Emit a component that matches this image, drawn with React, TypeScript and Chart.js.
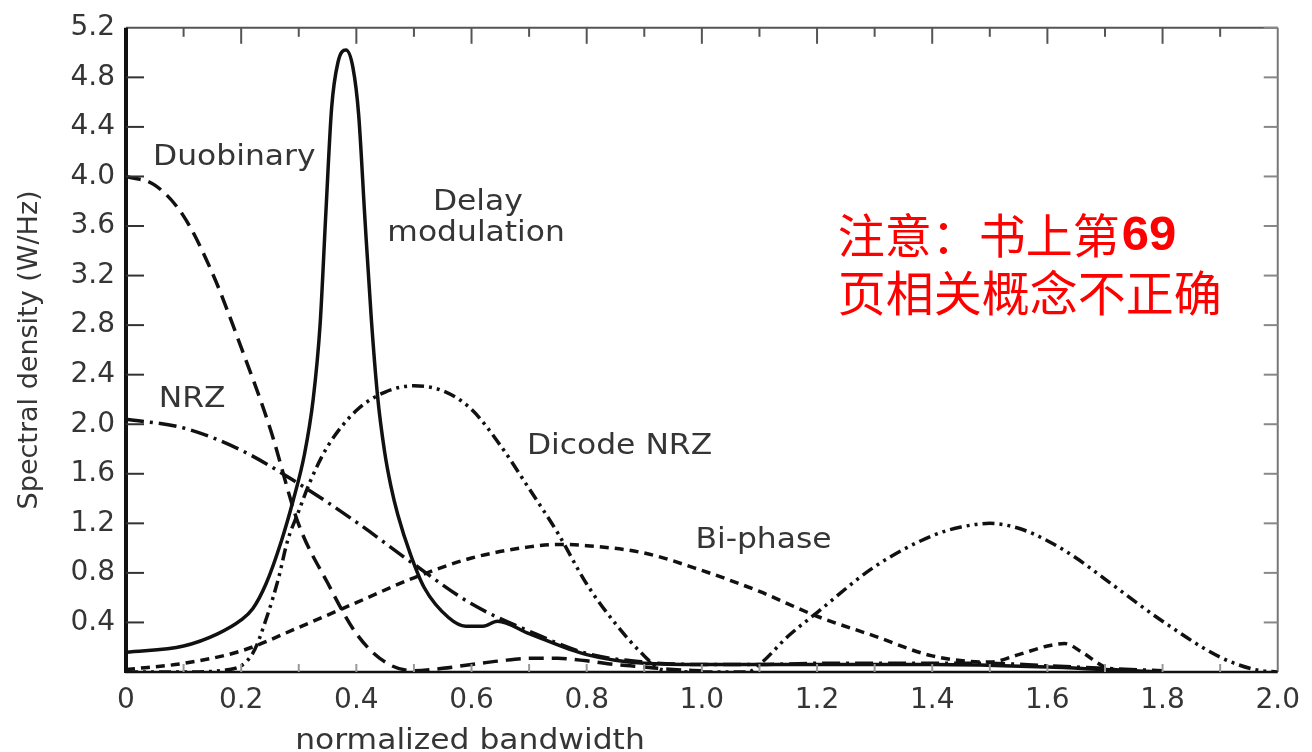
import React, { useEffect, useRef } from 'react';
import { Chart, registerables } from 'chart.js';

Chart.register(...registerables);

// ---------- data ----------
const duobinaryX = [0, 0.05, 0.1, 0.15, 0.2, 0.25, 0.3, 0.35, 0.4, 0.45, 0.5, 0.55, 0.6, 0.65, 0.7, 0.75, 0.8, 0.85, 0.9, 0.95, 1.0];
const duobinaryY = [4.0, 3.93, 3.68, 3.22, 2.62, 1.97, 1.19, 0.72, 0.31, 0.08, 0.01, 0.03, 0.06, 0.09, 0.11, 0.11, 0.09, 0.06, 0.04, 0.02, 0.01];

const delayX = [0, 0.1, 0.16, 0.2, 0.22, 0.243, 0.27, 0.29, 0.31, 0.325, 0.337, 0.347, 0.357, 0.368, 0.382, 0.394, 0.404, 0.415, 0.426, 0.437, 0.449, 0.46, 0.472, 0.494, 0.518, 0.56, 0.59, 0.62, 0.645, 0.7, 0.8, 0.9, 1.0, 1.2, 1.4, 1.6, 1.7, 1.8];
const delayY = [0.16, 0.21, 0.31, 0.42, 0.51, 0.71, 1.06, 1.38, 1.76, 2.2, 2.8, 3.7, 4.55, 4.92, 5.02, 4.88, 4.5, 3.65, 2.85, 2.22, 1.78, 1.5, 1.27, 0.95, 0.68, 0.44, 0.37, 0.37, 0.41, 0.31, 0.14, 0.07, 0.06, 0.06, 0.06, 0.04, 0.02, 0.0];

const nrzX = [0, 0.1, 0.2, 0.3, 0.4, 0.5, 0.6, 0.7, 0.8, 0.9, 1.0, 1.1, 1.2, 1.3, 1.4, 1.5, 1.6, 1.7, 1.8];
const nrzY = [2.04, 1.97, 1.79, 1.52, 1.21, 0.87, 0.55, 0.33, 0.15, 0.08, 0.06, 0.06, 0.07, 0.07, 0.07, 0.07, 0.05, 0.03, 0.01];

const dicodeX = [0, 0.1, 0.18, 0.22, 0.245, 0.265, 0.28, 0.3, 0.32, 0.35, 0.4, 0.45, 0.5, 0.55, 0.6, 0.65, 0.7, 0.75, 0.8, 0.85, 0.9, 0.93, 1.0, 1.08, 1.1, 1.15, 1.2, 1.3, 1.4, 1.45, 1.5, 1.55, 1.6, 1.65, 1.7, 1.8, 1.9, 1.96, 2.0];
const dicodeY = [0, 0, 0.02, 0.15, 0.45, 0.76, 1.05, 1.3, 1.54, 1.82, 2.11, 2.26, 2.31, 2.27, 2.12, 1.83, 1.48, 1.12, 0.71, 0.39, 0.13, 0.02, 0, 0, 0.06, 0.29, 0.48, 0.85, 1.1, 1.17, 1.2, 1.16, 1.06, 0.92, 0.75, 0.41, 0.12, 0.02, 0];

const biphaseX = [0, 0.1, 0.2, 0.3, 0.4, 0.5, 0.6, 0.7, 0.75, 0.8, 0.9, 1.0, 1.1, 1.2, 1.3, 1.4, 1.5, 1.55, 1.6, 1.63, 1.66, 1.7, 1.75];
const biphaseY = [0.02, 0.07, 0.17, 0.36, 0.56, 0.76, 0.92, 1.01, 1.03, 1.02, 0.96, 0.82, 0.65, 0.45, 0.29, 0.13, 0.08, 0.14, 0.21, 0.23, 0.16, 0.04, 0.0];

const xTickValues = [0, 0.2, 0.4, 0.6, 0.8, 1.0, 1.2, 1.4, 1.6, 1.8, 2.0];
const xTickLabels = ['0', '0.2', '0.4', '0.6', '0.8', '1.0', '1.2', '1.4', '1.6', '1.8', '2.0'];
const yTickValues = [0.4, 0.8, 1.2, 1.6, 2.0, 2.4, 2.8, 3.2, 3.6, 4.0, 4.4, 4.8, 5.2];
const yTickLabels = ['0.4', '0.8', '1.2', '1.6', '2.0', '2.4', '2.8', '3.2', '3.6', '4.0', '4.4', '4.8', '5.2'];
const minorXTicks = [0.1, 0.2, 0.3, 0.4, 0.5, 0.6, 0.7, 0.8, 0.9, 1.0, 1.1, 1.2, 1.3, 1.4, 1.5, 1.6, 1.7, 1.8, 1.9];

const xTitle = 'normalized bandwidth';
const yTitle = 'Spectral density (W/Hz)';

// curve labels: [text, x value, y value]
const curveLabels: [string, number, number][] = [
  ['Duobinary', 0.188, 4.15],
  ['Delay', 0.611, 3.79],
  ['modulation', 0.608, 3.54],
  ['NRZ', 0.115, 2.2],
  ['Dicode NRZ', 0.857, 1.82],
  ['Bi-phase', 1.107, 1.06],
];

const noteLine1a = '注意：书上第';
const noteLine1b = '69';
const noteLine2 = '页相关概念不正确';

const pts = (xs: number[], ys: number[]) => xs.map((x, i) => ({ x, y: ys[i] }));

const INK = '#111';
const TEXT = '#353535';

function stretchedText(ctx: CanvasRenderingContext2D, text: string, x: number, y: number, stretch: number) {
  ctx.save();
  ctx.translate(x, y);
  ctx.scale(stretch, 1);
  ctx.fillText(text, 0, 0);
  ctx.restore();
}

const decorPlugin = {
  id: 'decor',
  afterDatasetsDraw(chart: any) {
    const { ctx, chartArea } = chart;
    const { left, right, top, bottom } = chartArea;
    const xs = chart.scales.x;
    const ys = chart.scales.y;
    ctx.save();
    // frame
    ctx.lineCap = 'butt';
    ctx.strokeStyle = '#555';
    ctx.lineWidth = 2;
    ctx.beginPath();
    ctx.moveTo(left, top);
    ctx.lineTo(right, top);
    ctx.stroke();
    ctx.strokeStyle = '#777';
    ctx.beginPath();
    ctx.moveTo(right, top);
    ctx.lineTo(right, bottom);
    ctx.stroke();
    ctx.strokeStyle = INK;
    ctx.lineWidth = 2.5;
    ctx.beginPath();
    ctx.moveTo(left - 1, bottom);
    ctx.lineTo(right, bottom);
    ctx.stroke();
    ctx.lineWidth = 4;
    ctx.beginPath();
    ctx.moveTo(left, top);
    ctx.lineTo(left, bottom + 1);
    ctx.stroke();

    // inner ticks
    ctx.lineWidth = 2;
    ctx.strokeStyle = '#333';
    yTickValues.forEach((v) => {
      const py = ys.getPixelForValue(v);
      if (v < 5.2) {
        ctx.beginPath();
        ctx.moveTo(left, py);
        ctx.lineTo(left + 18, py);
        ctx.stroke();
      }
    });
    ctx.strokeStyle = '#888';
    yTickValues.forEach((v) => {
      const py = ys.getPixelForValue(v);
      ctx.beginPath();
      ctx.moveTo(right, py);
      ctx.lineTo(right - 14, py);
      ctx.stroke();
    });
    minorXTicks.forEach((v, i) => {
      const px = xs.getPixelForValue(v);
      const major = i % 2 === 1;
      ctx.strokeStyle = '#555';
      ctx.beginPath();
      ctx.moveTo(px, top);
      ctx.lineTo(px, top + (major ? 16 : 9));
      ctx.stroke();
      ctx.strokeStyle = '#999';
      ctx.beginPath();
      ctx.moveTo(px, bottom);
      ctx.lineTo(px, bottom - 8);
      ctx.stroke();
    });

    // curve labels
    ctx.fillStyle = TEXT;
    ctx.font = '28px "DejaVu Sans"';
    ctx.textAlign = 'center';
    ctx.textBaseline = 'middle';
    curveLabels.forEach(([t, vx, vy]) => {
      stretchedText(ctx, t, xs.getPixelForValue(vx), ys.getPixelForValue(vy), 1.12);
    });

    // axis titles
    stretchedText(ctx, xTitle, left + 344, bottom + 70, 1.12);
    ctx.save();
    ctx.translate(30, (top + bottom) / 2);
    ctx.rotate(-Math.PI / 2);
    ctx.font = '27px "DejaVu Sans"';
    ctx.fillText(yTitle, 0, 0);
    ctx.restore();

    // red note
    ctx.fillStyle = '#ff0000';
    ctx.textAlign = 'left';
    const nx = xs.getPixelForValue(1.236);
    ctx.font = '47px "Noto Sans CJK SC"';
    const y1 = ys.getPixelForValue(3.53);
    ctx.fillText(noteLine1a, nx, y1);
    const w1 = ctx.measureText(noteLine1a).width;
    ctx.font = 'bold 49px "Liberation Sans"';
    ctx.fillText(noteLine1b, nx + w1 + 2, y1 + 2);
    ctx.font = '48px "Noto Sans CJK SC"';
    ctx.fillText(noteLine2, nx, ys.getPixelForValue(3.06));
    ctx.restore();
  },
};

export default function App() {
  const ref = useRef<HTMLCanvasElement | null>(null);
  useEffect(() => {
    document.body.style.margin = '0';
    const canvas = ref.current;
    if (!canvas) return;
    const ds = (label: string, xs: number[], ys: number[], dash: number[], width: number) => ({
      label,
      data: pts(xs, ys),
      showLine: true,
      borderColor: INK,
      backgroundColor: INK,
      borderWidth: width,
      borderDash: dash,
      pointRadius: 0,
      tension: 0.4,
      cubicInterpolationMode: 'monotone' as const,
      fill: false,
    });
    const chart = new Chart(canvas, {
      type: 'scatter',
      data: {
        datasets: [
          ds('Duobinary', duobinaryX, duobinaryY, [15, 8], 3.5),
          ds('Delay modulation', delayX, delayY, [], 3.5),
          ds('NRZ', nrzX, nrzY, [18, 6, 3, 6], 3.5),
          ds('Dicode NRZ', dicodeX, dicodeY, [12, 5, 3, 5, 3, 5], 3.5),
          ds('Bi-phase', biphaseX, biphaseY, [9, 6], 3.5),
        ],
      },
      options: {
        responsive: false,
        animation: false,
        devicePixelRatio: 1,
        layout: { padding: { left: 0, right: 24, top: 22, bottom: 0 } },
        plugins: { legend: { display: false }, tooltip: { enabled: false } },
        scales: {
          x: {
            type: 'linear',
            min: 0,
            max: 2,
            grid: { display: false, drawTicks: false },
            border: { display: false },
            afterBuildTicks: (s: any) => {
              s.ticks = xTickValues.map((v) => ({ value: v }));
            },
            afterFit: (s: any) => {
              s.height = 80;
            },
            ticks: {
              autoSkip: false,
              maxRotation: 0,
              padding: 12,
              color: TEXT,
              font: { family: 'DejaVu Sans', size: 28 },
              callback: (_v: any, i: number) => xTickLabels[i],
            },
          },
          y: {
            type: 'linear',
            min: 0,
            max: 5.2,
            grid: { display: false, drawTicks: false },
            border: { display: false },
            afterBuildTicks: (s: any) => {
              s.ticks = yTickValues.map((v) => ({ value: v }));
            },
            afterFit: (s: any) => {
              s.width = 126;
            },
            ticks: {
              autoSkip: false,
              padding: 11,
              color: TEXT,
              font: { family: 'DejaVu Sans', size: 28 },
              callback: (_v: any, i: number) => yTickLabels[i],
            },
          },
        },
      },
      plugins: [decorPlugin],
    });
    return () => chart.destroy();
  }, []);
  return (
    <div style={{ position: 'fixed', left: 0, top: 0, width: 1312, height: 752, background: '#fff' }}>
      <canvas ref={ref} width={1312} height={752} style={{ display: 'block' }} />
    </div>
  );
}
